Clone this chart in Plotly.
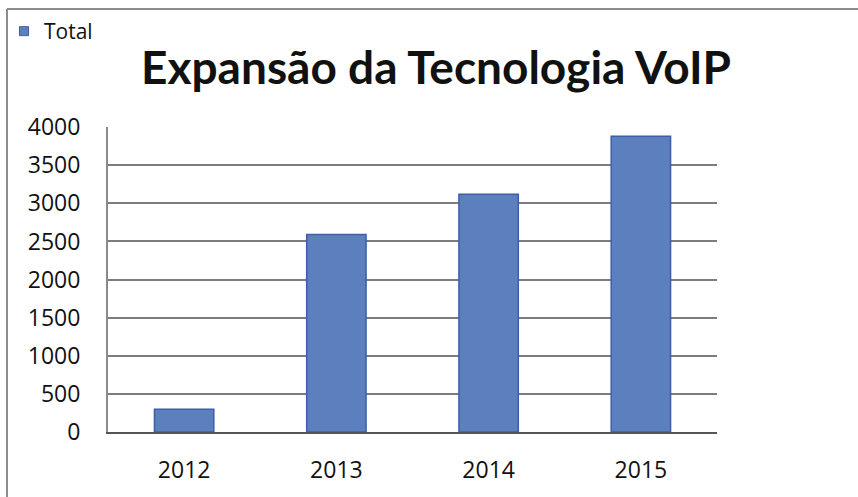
import plotly.graph_objects as go

categories = ["2012", "2013", "2014", "2015"]
values = [300, 2590, 3120, 3880]
series_name = "Total"
title_text = "Expansão da Tecnologia VoIP"
y_ticks = [0, 500, 1000, 1500, 2000, 2500, 3000, 3500, 4000]

W, H = 858, 497
L, R, T, B = 108, 141, 127, 65
pw, ph = W - L - R, H - T - B

BAR_FILL = "#5b80bd"
BAR_EDGE = "#3c5fa6"

def px_x(x):
    return (x - L) / pw

def px_y(y):
    return (H - B - y) / ph

fig = go.Figure()
fig.add_trace(go.Bar(
    x=categories, y=values, name=series_name, showlegend=False,
    marker=dict(color=BAR_FILL, line=dict(color=BAR_EDGE, width=1.5)),
    width=0.39,
))
# legend entry with a small square key, as in the reference
fig.add_trace(go.Scatter(
    x=[None], y=[None], name=series_name, mode="markers", showlegend=True,
    marker=dict(symbol="square", size=9, color=BAR_FILL,
                line=dict(color=BAR_EDGE, width=1)),
))

fig.update_layout(
    width=W, height=H,
    margin=dict(l=L, r=R, t=T, b=B, autoexpand=False),
    paper_bgcolor="white", plot_bgcolor="white",
    font=dict(family="Open Sans", color="#111111", size=23),
    title=dict(
        text=title_text, x=436 / W, xref="container", xanchor="center",
        y=1 - 68 / H, yref="container", yanchor="middle",
        font=dict(family="Lato", size=46, color="#111111", weight="bold"),
    ),
    showlegend=True,
    legend=dict(
        x=4 / W, y=1 - 11 / H, xref="container", yref="container",
        xanchor="left", yanchor="top",
        font=dict(family="Open Sans", size=21, color="#111111"),
        itemwidth=30, bgcolor="rgba(0,0,0,0)",
    ),
    xaxis=dict(
        showgrid=False, showline=True, linecolor="#555555", linewidth=2,
        ticks="outside", ticklen=16, tickcolor="rgba(0,0,0,0)",
        tickfont=dict(size=23),
    ),
    yaxis=dict(
        range=[0, 4002], tickvals=y_ticks, showgrid=True, gridcolor="#7c7c7c",
        gridwidth=2, showline=True, linecolor="#8a8a8a", linewidth=2,
        zeroline=False, ticks="outside", ticklen=21, tickcolor="rgba(0,0,0,0)",
        tickfont=dict(size=23),
    ),
    shapes=[
        dict(type="line", xref="paper", yref="paper", x0=px_x(7), x1=px_x(7),
             y0=px_y(9), y1=px_y(H + 5), line=dict(color="#8c8c8c", width=2)),
        dict(type="line", xref="paper", yref="paper", x0=px_x(7), x1=px_x(W + 5),
             y0=px_y(9), y1=px_y(9), line=dict(color="#8c8c8c", width=2)),
    ],
)

fig.write_html("out.html", config={"displayModeBar": False},
               post_script="document.body.style.margin='0';")
